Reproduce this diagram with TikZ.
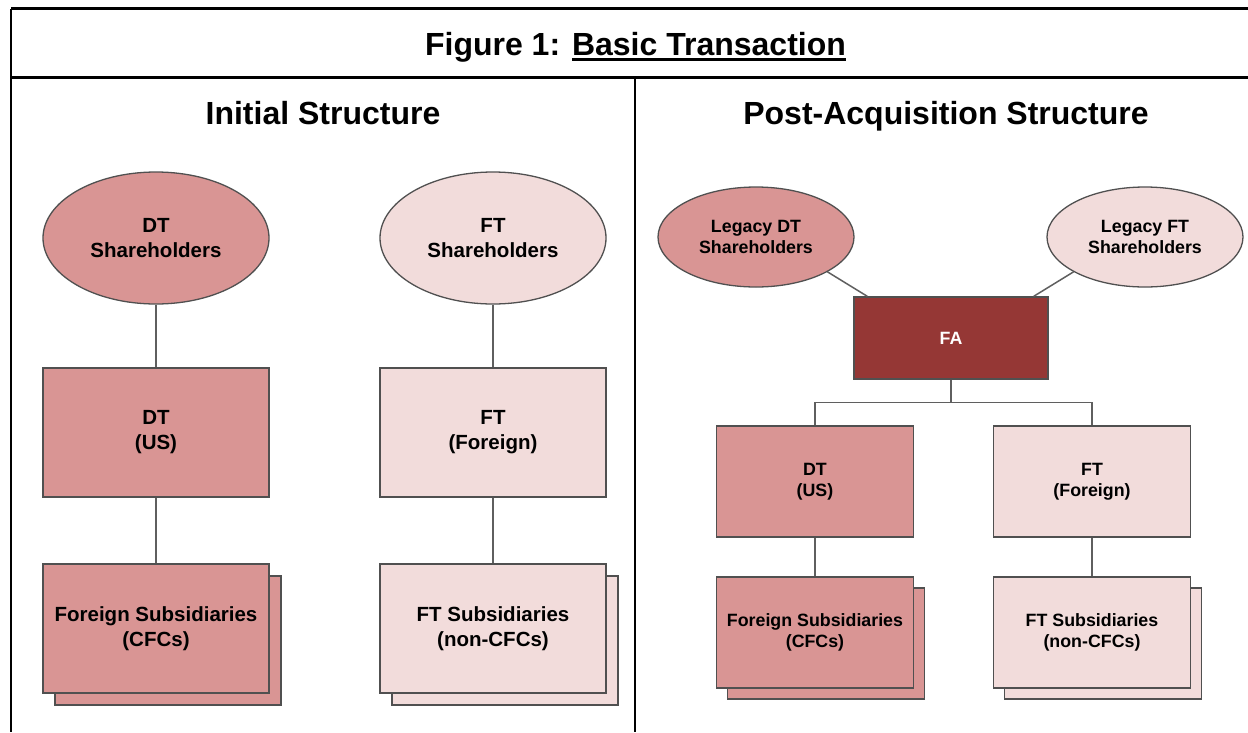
\documentclass[tikz,border=0pt]{standalone}
\usepackage{fontspec}
\setmainfont{Liberation Sans}
\usetikzlibrary{shapes.geometric}
\newsavebox\myulbox
\newcommand\myul[1]{\sbox\myulbox{#1}\rlap{\rule[-5.6pt]{\wd\myulbox}{2.8pt}}\usebox\myulbox}
\definecolor{dtred}{HTML}{D99594}
\definecolor{ftpink}{HTML}{F2DCDB}
\definecolor{fared}{HTML}{953735}
\definecolor{edgegray}{HTML}{505050}
\definecolor{conngray}{HTML}{5F5F5F}
\tikzset{
  frameline/.style={line width=2.3pt, draw=black},
  heading/.style={anchor=base, font=\fontsize{32}{36}\selectfont\bfseries},
  bigtxt/.style={font=\fontsize{20.5}{25}\selectfont\bfseries, align=center},
  smtxt/.style={font=\fontsize{17.8}{21}\selectfont\bfseries, align=center},
  dtfill/.style={fill=dtred, draw=edgegray, line width=1.3pt},
  ftfill/.style={fill=ftpink, draw=edgegray, line width=1.3pt},
  fafill/.style={fill=fared, draw=edgegray, line width=1.3pt, text=white},
  oval/.style={ellipse, inner sep=0pt},
  box/.style={rectangle, inner sep=0pt},
  lbox/.style={box, minimum width=226, minimum height=129},
  rbox/.style={box, minimum width=197, minimum height=111},
  link/.style={draw=conngray, line width=1.5pt}
}
\begin{document}
\begin{tikzpicture}[x=1pt,y=-1pt]
\useasboundingbox (0,0) rectangle (1248,732);
\fill[white] (0,0) rectangle (1248,732);

% frame
\draw[frameline] (11,8.5) -- (1248,8.5);
\draw[frameline] (11,8.5) -- (11,732);
\draw[frameline] (11,77.5) -- (1248,77.5);
\draw[frameline] (635,77.5) -- (635,732);

% titles
\node[heading] (title) at (635.5,55) {Figure 1: \myul{Basic Transaction}};
\node[heading] (hL) at (323,124) {Initial Structure};
\node[heading] (hR) at (946,124) {Post-Acquisition Structure};

% ---- left: initial structure
\node[oval, dtfill, bigtxt, minimum width=226, minimum height=132] (dsh) at (156,238) {DT\\Shareholders};
\node[oval, ftfill, bigtxt, minimum width=226, minimum height=132] (fsh) at (493,238) {FT\\Shareholders};
\node[lbox, dtfill, bigtxt] (dt) at (156,432.5) {DT\\(US)};
\node[lbox, ftfill, bigtxt] (ft) at (493,432.5) {FT\\(Foreign)};
\node[lbox, dtfill] (dsubS) at (168,640.5) {};
\node[lbox, dtfill, bigtxt] (dsub) at (156,628.5) {Foreign Subsidiaries\\(CFCs)};
\node[lbox, ftfill] (fsubS) at (505,640.5) {};
\node[lbox, ftfill, bigtxt] (fsub) at (493,628.5) {FT Subsidiaries\\(non-CFCs)};

\draw[link] (dsh) -- (dt);
\draw[link] (dt) -- (dsub);
\draw[link] (fsh) -- (ft);
\draw[link] (ft) -- (fsub);

% ---- right: post-acquisition structure
\node[oval, dtfill, smtxt, minimum width=196, minimum height=100] (ldt) at (756,237) {Legacy DT\\Shareholders};
\node[oval, ftfill, smtxt, minimum width=196, minimum height=100] (lft) at (1145,237) {Legacy FT\\Shareholders};
\node[box, fafill, smtxt, minimum width=194, minimum height=82] (fa) at (951,338) {FA};
\node[rbox, dtfill, smtxt] (rdt) at (815,481.5) {DT\\(US)};
\node[rbox, ftfill, smtxt] (rft) at (1092,481.5) {FT\\(Foreign)};
\node[rbox, dtfill] (rdsubS) at (826,643.5) {};
\node[rbox, dtfill, smtxt] (rdsub) at (815,632.5) {Foreign Subsidiaries\\(CFCs)};
\node[rbox, ftfill] (rfsubS) at (1103,643.5) {};
\node[rbox, ftfill, smtxt] (rfsub) at (1092,632.5) {FT Subsidiaries\\(non-CFCs)};

\draw[link] (ldt.-26) -- ([xshift=14pt]fa.north west);
\draw[link] (lft.206) -- ([xshift=-15pt]fa.north east);
\draw[link] (fa.south) -- ++(0,23) -| (rdt.north);
\draw[link] (fa.south) -- ++(0,23) -| (rft.north);
\draw[link] (rdt) -- (rdsub);
\draw[link] (rft) -- (rfsub);
\end{tikzpicture}
\end{document}
